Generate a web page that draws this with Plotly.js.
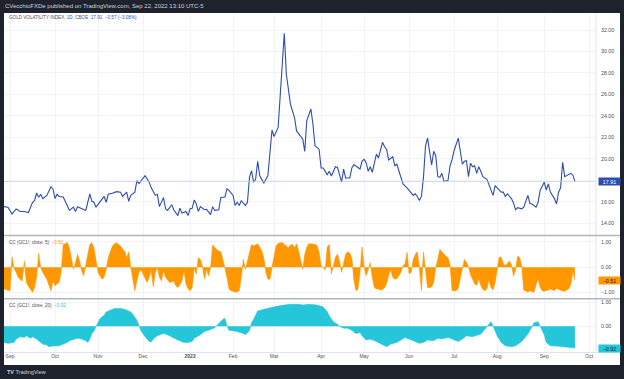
<!DOCTYPE html>
<html><head><meta charset="utf-8">
<script src="https://cdn.plot.ly/plotly-3.0.1.min.js"></script>
<style>html,body{margin:0;padding:0;background:#1e222d;overflow:hidden}#chart{width:624px;height:379px}</style>
</head><body><div id="chart"></div>
<script>
// ---- Gold Volatility Index (GVZ), daily close ----
const gvzDates = [
'2021-08-27','2021-08-31','2021-09-02','2021-09-06','2021-09-08','2021-09-10','2021-09-14','2021-09-16','2021-09-17','2021-09-20','2021-09-21','2021-09-22','2021-09-23','2021-09-27','2021-09-29','2021-09-30',
'2021-10-01','2021-10-04','2021-10-05','2021-10-07','2021-10-11','2021-10-12','2021-10-14','2021-10-15','2021-10-18','2021-10-20','2021-10-22','2021-10-25','2021-10-26','2021-10-27','2021-10-28','2021-10-29',
'2021-11-02','2021-11-04','2021-11-05','2021-11-08','2021-11-10','2021-11-12','2021-11-16','2021-11-17','2021-11-19','2021-11-22','2021-11-23','2021-11-25','2021-11-26','2021-11-29',
'2021-12-02','2021-12-06','2021-12-07','2021-12-09','2021-12-10','2021-12-13','2021-12-15','2021-12-16','2021-12-17','2021-12-21','2021-12-22','2021-12-24','2021-12-27','2021-12-28','2021-12-30','2021-12-31',
'2022-01-03','2022-01-04','2022-01-05','2022-01-06','2022-01-07','2022-01-10','2022-01-12','2022-01-13','2022-01-17','2022-01-18','2022-01-19','2022-01-21','2022-01-24','2022-01-26','2022-01-27','2022-01-28',
'2022-02-01','2022-02-02','2022-02-03','2022-02-04','2022-02-07','2022-02-09','2022-02-10','2022-02-11','2022-02-14','2022-02-15','2022-02-16','2022-02-17','2022-02-18','2022-02-22','2022-02-24','2022-02-25','2022-02-28',
'2022-03-01','2022-03-03','2022-03-08','2022-03-09','2022-03-11','2022-03-14','2022-03-15','2022-03-16','2022-03-17','2022-03-18','2022-03-21','2022-03-22','2022-03-23','2022-03-25','2022-03-28','2022-03-29','2022-03-31',
'2022-04-01','2022-04-04','2022-04-06','2022-04-07','2022-04-08','2022-04-12','2022-04-13','2022-04-15','2022-04-18','2022-04-19','2022-04-21','2022-04-22','2022-04-25','2022-04-27','2022-04-28','2022-04-29',
'2022-05-02','2022-05-03','2022-05-04','2022-05-05','2022-05-06','2022-05-10','2022-05-11','2022-05-13','2022-05-16','2022-05-17','2022-05-18','2022-05-20','2022-05-23','2022-05-24','2022-05-26','2022-05-27','2022-05-31',
'2022-06-01','2022-06-03','2022-06-06','2022-06-07','2022-06-08','2022-06-09','2022-06-10','2022-06-13','2022-06-14','2022-06-16','2022-06-17','2022-06-20','2022-06-21','2022-06-22','2022-06-23','2022-06-24','2022-06-28','2022-06-29','2022-06-30',
'2022-07-01','2022-07-05','2022-07-06','2022-07-07','2022-07-08','2022-07-11','2022-07-12','2022-07-13','2022-07-14','2022-07-15','2022-07-18','2022-07-19','2022-07-20','2022-07-21','2022-07-25','2022-07-27','2022-07-28','2022-07-29',
'2022-08-02','2022-08-03','2022-08-04','2022-08-05','2022-08-08','2022-08-10','2022-08-11','2022-08-12','2022-08-15','2022-08-17','2022-08-18','2022-08-22','2022-08-23','2022-08-24','2022-08-26','2022-08-29','2022-08-30',
'2022-09-01','2022-09-02','2022-09-05','2022-09-06','2022-09-08','2022-09-09','2022-09-12','2022-09-13','2022-09-14','2022-09-15','2022-09-16','2022-09-19','2022-09-20','2022-09-21','2022-09-22'];
const gvzValues = [
15.55,15.5,14.87,15.33,15.1,15.1,15.0,15.96,16.1,16.82,16.42,16.7,16.3,16.6,17.41,17.2,
16.3,16.7,16.5,16.45,15.64,15.2,15.5,15.1,15.55,15.35,15.2,15.96,16.73,16.05,15.96,15.5,
16.05,16.5,15.96,16.7,16.8,16.95,16.9,16.5,16.9,16.05,16.6,16.9,17.97,17.7,
18.44,17.83,17.3,16.6,16.7,15.55,16.4,15.35,15.2,15.73,15.26,14.72,15.4,14.95,15.1,14.72,
15.35,15.4,16.17,15.8,15.1,15.55,15.26,15.3,14.8,15.55,15.2,15.26,16.4,16.45,17.2,17.06,
16.6,15.65,15.96,15.65,16.1,15.65,15.96,18.28,18.9,17.83,18.1,19.77,18.44,17.74,18.44,20.45,22.69,
22.07,22.93,31.69,27.9,25.1,24.4,23.85,22.6,22.37,22.16,21.85,20.7,23.56,24.64,23.25,21.22,20.9,
19.15,19.15,18.53,18.84,18.4,19.27,19.2,17.83,19.05,18.22,18.22,19.15,19.46,19.15,19.05,19.8,
19.95,19.65,18.84,19.27,18.75,20.45,20.08,21.54,21.13,20.9,19.9,20.2,19.36,19.5,18.28,17.66,17.3,
17.06,16.6,16.75,16.5,16.13,16.5,18.28,21.22,21.93,19.43,20.7,20.3,18.34,18.28,18.65,17.9,18.0,19.36,19.95,
20.8,21.93,20.45,19.5,19.77,19.83,18.34,19.6,19.27,19.36,18.65,19.27,18.84,18.34,18.1,17.2,16.6,17.5,
17.1,16.9,16.9,16.5,16.75,16.3,15.87,15.26,15.45,15.35,15.5,16.6,15.87,15.8,15.5,15.96,17.06,
17.83,17.1,17.66,16.9,16.3,15.8,16.9,17.3,19.68,18.34,18.44,18.55,18.65,18.48,17.91];

// ---- CC (GC1!, close, 5) ----
const cc5Dates = [
'2021-08-27','2021-08-31','2021-09-01','2021-09-02','2021-09-03','2021-09-06','2021-09-07','2021-09-08','2021-09-09','2021-09-10','2021-09-13','2021-09-14','2021-09-15','2021-09-16','2021-09-17','2021-09-20','2021-09-21','2021-09-22','2021-09-23','2021-09-24','2021-09-27','2021-09-28','2021-09-29','2021-09-30',
'2021-10-01','2021-10-04','2021-10-05','2021-10-06','2021-10-07','2021-10-08','2021-10-11','2021-10-12','2021-10-13','2021-10-14','2021-10-15','2021-10-18','2021-10-19','2021-10-20','2021-10-21','2021-10-22','2021-10-25','2021-10-26','2021-10-27','2021-10-28','2021-10-29',
'2021-11-01','2021-11-02','2021-11-03','2021-11-04','2021-11-05','2021-11-08','2021-11-09','2021-11-10','2021-11-11','2021-11-12','2021-11-15','2021-11-16','2021-11-17','2021-11-18','2021-11-19','2021-11-22','2021-11-23','2021-11-24','2021-11-25','2021-11-26','2021-11-29','2021-11-30',
'2021-12-01','2021-12-02','2021-12-03','2021-12-06','2021-12-07','2021-12-08','2021-12-09','2021-12-10','2021-12-13','2021-12-14','2021-12-15','2021-12-16','2021-12-17','2021-12-20','2021-12-21','2021-12-22','2021-12-23','2021-12-24','2021-12-27','2021-12-28','2021-12-29','2021-12-30','2021-12-31',
'2022-01-03','2022-01-04','2022-01-05','2022-01-06','2022-01-07','2022-01-10','2022-01-11','2022-01-12','2022-01-13','2022-01-14','2022-01-17','2022-01-18','2022-01-19','2022-01-20','2022-01-21','2022-01-24','2022-01-25','2022-01-26','2022-01-27','2022-01-28','2022-01-31',
'2022-02-01','2022-02-02','2022-02-03','2022-02-04','2022-02-07','2022-02-08','2022-02-09','2022-02-10','2022-02-11','2022-02-14','2022-02-15','2022-02-16','2022-02-17','2022-02-18','2022-02-21','2022-02-22','2022-02-23','2022-02-24','2022-02-25','2022-02-28',
'2022-03-01','2022-03-02','2022-03-03','2022-03-04','2022-03-07','2022-03-08','2022-03-09','2022-03-10','2022-03-11','2022-03-14','2022-03-15','2022-03-16','2022-03-17','2022-03-18','2022-03-21','2022-03-22','2022-03-23','2022-03-24','2022-03-25','2022-03-28','2022-03-29','2022-03-30','2022-03-31',
'2022-04-01','2022-04-04','2022-04-05','2022-04-06','2022-04-07','2022-04-08','2022-04-11','2022-04-12','2022-04-13','2022-04-14','2022-04-15','2022-04-18','2022-04-19','2022-04-20','2022-04-21','2022-04-22','2022-04-25','2022-04-26','2022-04-27','2022-04-28','2022-04-29',
'2022-05-02','2022-05-03','2022-05-04','2022-05-05','2022-05-06','2022-05-09','2022-05-10','2022-05-11','2022-05-12','2022-05-13','2022-05-16','2022-05-17','2022-05-18','2022-05-19','2022-05-20','2022-05-23','2022-05-24','2022-05-25','2022-05-26','2022-05-27','2022-05-30','2022-05-31',
'2022-06-01','2022-06-02','2022-06-03','2022-06-06','2022-06-07','2022-06-08','2022-06-09','2022-06-10','2022-06-13','2022-06-14','2022-06-15','2022-06-16','2022-06-17','2022-06-20','2022-06-21','2022-06-22','2022-06-23','2022-06-24','2022-06-27','2022-06-28','2022-06-29','2022-06-30',
'2022-07-01','2022-07-04','2022-07-05','2022-07-06','2022-07-07','2022-07-08','2022-07-11','2022-07-12','2022-07-13','2022-07-14','2022-07-15','2022-07-18','2022-07-19','2022-07-20','2022-07-21','2022-07-22','2022-07-25','2022-07-26','2022-07-27','2022-07-28','2022-07-29',
'2022-08-01','2022-08-02','2022-08-03','2022-08-04','2022-08-05','2022-08-08','2022-08-09','2022-08-10','2022-08-11','2022-08-12','2022-08-15','2022-08-16','2022-08-17','2022-08-18','2022-08-19','2022-08-22','2022-08-23','2022-08-24','2022-08-25','2022-08-26','2022-08-29','2022-08-30','2022-08-31',
'2022-09-01','2022-09-02','2022-09-05','2022-09-06','2022-09-07','2022-09-08','2022-09-09','2022-09-12','2022-09-13','2022-09-14','2022-09-15','2022-09-16','2022-09-19','2022-09-20','2022-09-21','2022-09-22'];
const cc5Values = [
-0.86,-0.9,-0.93,0.41,-0.05,-0.2,-0.4,-0.48,-0.54,0.25,-0.6,-0.75,-0.86,-0.99,-0.8,-0.4,0.54,-0.02,-0.2,-0.35,-0.47,-0.7,-0.93,-0.54,
-0.73,-0.65,-0.6,-0.2,0.9,0.93,0.98,0.77,0.25,-0.08,0.18,0.51,0.25,-0.14,-0.34,0.02,0.51,0.9,0.97,0.77,0.25,
-0.2,-0.35,-0.47,-0.4,-0.08,0.38,0.64,0.84,0.92,0.97,0.9,0.84,0.71,0.64,0.38,0.61,0,-0.4,-0.93,-0.54,-0.2,-0.1,
-0.25,-0.4,-0.6,-0.4,-0.14,-0.77,-0.2,0,-0.4,-0.54,-0.14,-0.4,-0.5,-0.6,-0.58,-0.54,-0.73,-0.8,-0.7,-0.54,-0.14,-0.67,-0.85,
-0.93,-0.8,0,-0.27,0.38,0.31,0.05,-0.47,-0.08,-0.34,0,0.88,0.77,0.7,0.64,0.61,0.31,0,-0.4,-0.86,-0.93,
-0.95,-0.99,-0.97,-0.93,-0.4,0.31,-0.08,0.25,0.51,0.9,0.84,0.88,0.93,0.8,0.64,0.38,-0.2,-0.47,-0.47,0,
0.51,0.85,0.95,0.98,0.98,0.9,0.85,0.77,0.88,0.9,0.77,0.93,0.64,0.2,-0.08,0.5,0.8,0.93,0.93,0.92,0.9,0.86,0.6,
0.05,0,-0.12,0.8,0.9,-0.27,0.1,0.4,0.51,0.25,-0.2,0.1,0.51,0.61,0.55,0.38,-0.5,-0.93,-0.86,-0.2,0.8,
0,-0.34,-0.1,0.18,-0.4,-0.8,-0.86,-0.86,-0.9,-0.88,-0.8,-0.65,-0.3,-0.1,-0.4,-0.47,-0.45,-0.34,-0.2,0.05,0.14,0.58,
-0.27,-0.2,0.31,0.5,0.61,0,-0.93,0.61,0,-0.8,-0.8,-0.78,-0.6,0,0.31,0.71,0.6,0.5,0.44,0.38,0.1,-0.93,
-0.93,-0.93,-0.82,-0.4,-0.05,0.31,0.2,0.02,-0.3,-0.5,-0.65,-0.72,-0.45,-0.72,-0.88,-0.93,-0.85,-0.5,-0.8,-0.9,-0.6,
-0.1,0.4,0.4,0.15,0.06,0.18,0.25,0.1,-0.35,-0.1,0.44,0.38,0.05,-0.9,-0.95,-0.98,-0.93,-0.95,-0.99,-0.7,-0.45,-0.8,-0.93,
-0.95,-0.93,-0.9,-0.86,-0.9,-0.93,-0.84,-0.88,-0.93,-0.94,-0.95,-0.9,-0.85,-0.67,-0.15,-0.51];

// ---- CC (GC1!, close, 20) ----
const cc20Dates = [
'2021-08-27','2021-08-31','2021-09-03','2021-09-06','2021-09-08','2021-09-10','2021-09-13','2021-09-15','2021-09-16','2021-09-20','2021-09-22','2021-09-23','2021-09-27','2021-09-28','2021-09-30',
'2021-10-05','2021-10-07','2021-10-11','2021-10-12','2021-10-14','2021-10-18','2021-10-20','2021-10-22','2021-10-25','2021-10-26','2021-10-27','2021-10-28','2021-10-29',
'2021-11-01','2021-11-02','2021-11-04','2021-11-05','2021-11-09','2021-11-11','2021-11-16','2021-11-18','2021-11-23','2021-11-24','2021-11-26','2021-11-29','2021-11-30',
'2021-12-02','2021-12-06','2021-12-07','2021-12-08','2021-12-10','2021-12-15','2021-12-17','2021-12-22','2021-12-24','2021-12-29','2021-12-31',
'2022-01-04','2022-01-05','2022-01-10','2022-01-12','2022-01-14','2022-01-17','2022-01-19','2022-01-21','2022-01-25','2022-01-26','2022-01-27','2022-01-28',
'2022-02-01','2022-02-03','2022-02-08','2022-02-09','2022-02-11','2022-02-14','2022-02-15','2022-02-17','2022-02-22','2022-02-24','2022-02-28',
'2022-03-03','2022-03-08','2022-03-11','2022-03-17','2022-03-21','2022-03-24','2022-03-30',
'2022-04-04','2022-04-06','2022-04-07','2022-04-11','2022-04-13','2022-04-14','2022-04-18','2022-04-20','2022-04-22','2022-04-26','2022-04-28','2022-04-29',
'2022-05-03','2022-05-05','2022-05-10','2022-05-12','2022-05-17','2022-05-19','2022-05-24','2022-05-26','2022-05-30',
'2022-06-01','2022-06-03','2022-06-08','2022-06-10','2022-06-14','2022-06-17','2022-06-21','2022-06-23','2022-06-28','2022-06-29',
'2022-07-05','2022-07-07','2022-07-11','2022-07-14','2022-07-18','2022-07-20','2022-07-22','2022-07-26','2022-07-27','2022-07-28',
'2022-08-01','2022-08-03','2022-08-05','2022-08-10','2022-08-12','2022-08-17','2022-08-22','2022-08-24','2022-08-25','2022-08-29','2022-08-30',
'2022-09-01','2022-09-02','2022-09-06','2022-09-09','2022-09-15','2022-09-20','2022-09-22'];
const cc20Values = [
-0.68,-0.72,-0.68,-0.54,-0.44,-0.47,-0.4,-0.5,-0.44,-0.54,-0.68,-0.75,-0.79,-0.86,-0.83,
-0.82,-0.75,-0.68,-0.61,-0.54,-0.5,-0.54,-0.61,-0.68,-0.54,-0.31,-0.2,-0.02,
0.15,0.33,0.46,0.6,0.67,0.75,0.75,0.71,0.6,0.5,0.25,0.01,-0.19,
-0.44,-0.64,-0.66,-0.54,-0.4,-0.31,-0.36,-0.5,-0.58,-0.68,-0.68,
-0.64,-0.5,-0.36,-0.22,-0.17,-0.13,-0.06,0.11,0.29,0.33,0.01,-0.17,
-0.19,-0.22,-0.31,-0.36,-0.19,0.15,0.29,0.64,0.71,0.75,0.81,
0.85,0.89,0.92,0.92,0.89,0.92,0.89,
0.81,0.61,0.43,0.19,0.08,-0.01,-0.08,-0.08,-0.17,-0.31,-0.26,-0.4,
-0.58,-0.54,-0.64,-0.72,-0.86,-0.75,-0.68,-0.58,-0.47,
-0.54,-0.62,-0.72,-0.68,-0.58,-0.61,-0.5,-0.54,-0.47,-0.5,
-0.64,-0.54,-0.4,-0.44,-0.4,-0.33,-0.13,0.08,0.19,0.01,
-0.4,-0.68,-0.82,-0.86,-0.82,-0.64,-0.33,-0.03,0.15,0.19,0.01,
-0.36,-0.68,-0.82,-0.83,-0.86,-0.89,-0.92];

// ---- axis ticks / labels ----
const monthTickDates = ['2021-09-01','2021-10-01','2021-11-01','2021-12-01','2022-01-03','2022-02-01','2022-03-01','2022-04-01','2022-05-02','2022-06-01','2022-07-01','2022-08-01','2022-09-01','2022-10-03'];
const monthTickLabels = ['Sep','Oct','Nov','Dec','<b>2022</b>','Feb','Mar','Apr','May','Jun','Jul','Aug','Sep','Oct'];
const priceTicks = [14,16,20,22,24,26,28,30,32];   // 18.00 is covered by the last-price tag
const ccTicks = [-1,0,1];
const cc20Ticks = [0,1];
const lastGvz = 17.91, lastCc5 = -0.51, lastCc20 = -0.92;

// ---- layout geometry (pixels) ----
const W = 624, H = 379, ML = 4, MR = 28, MT = 14, MB = 27;
const PW = W - ML - MR, PH = H - MT - MB;
const px = x => (x - ML) / PW;
const py = y => (H - MB - y) / PH;

const BLUE = '#2f4db0', ORANGE = '#ff9800', CYAN = '#26c6da';
const GRID = '#f0f3fa', TXT = '#4c4f59';
const FONT = 'Liberation Sans, Arial, sans-serif';

const traces = [
  {x: gvzDates, y: gvzValues, type: 'scatter', mode: 'lines', line: {color: BLUE, width: 1.1}, xaxis: 'x', yaxis: 'y'},
  {x: cc5Dates, y: cc5Values, type: 'scatter', mode: 'lines', fill: 'tozeroy', fillcolor: ORANGE, line: {color: ORANGE, width: 0.6}, xaxis: 'x', yaxis: 'y2'},
  {x: cc20Dates, y: cc20Values, type: 'scatter', mode: 'lines', fill: 'tozeroy', fillcolor: CYAN, line: {color: CYAN, width: 0.6}, xaxis: 'x', yaxis: 'y3'}
];

const yCommon = {side: 'right', showgrid: true, gridcolor: GRID, gridwidth: 1, zeroline: false, ticks: '', showline: false,
  tickfont: {family: FONT, size: 5.3, color: TXT}, tickformat: '.2f', ticklabelstandoff: 4, fixedrange: true};

const layout = {
  width: W, height: H,
  margin: {l: ML, r: MR, t: MT, b: MB, pad: 0},
  paper_bgcolor: '#1e222d', plot_bgcolor: '#ffffff',
  showlegend: false, hovermode: false,
  font: {family: FONT},
  xaxis: {type: 'date', anchor: 'y3', range: ['2021-08-27 01:40', '2022-10-06 07:00'],
    rangebreaks: [{bounds: ['sat', 'mon']}],
    tickmode: 'array', tickvals: monthTickDates, ticktext: monthTickLabels,
    showgrid: true, gridcolor: GRID, gridwidth: 1, zeroline: false, ticks: '', showline: false,
    tickfont: {family: FONT, size: 5, color: TXT}, ticklabelstandoff: 1.5},
  yaxis: Object.assign({}, yCommon, {domain: [py(235), 1], range: [12.91, 33.49], tickmode: 'array', tickvals: priceTicks}),
  yaxis2: Object.assign({}, yCommon, {domain: [py(298), py(236.5)], range: [-1.216, 1.216], tickmode: 'array', tickvals: ccTicks}),
  yaxis3: Object.assign({}, yCommon, {domain: [0, py(299.5)], range: [-1.083, 1.125], tickmode: 'array', tickvals: cc20Ticks}),
  shapes: [
    {type: 'rect', xref: 'paper', yref: 'paper', x0: px(4), x1: px(620), y0: py(365), y1: py(13), fillcolor: '#ffffff', line: {width: 0}, layer: 'below'},
    {type: 'line', xref: 'paper', yref: 'y', x0: 0, x1: 1, y0: lastGvz, y1: lastGvz, line: {color: '#bcc7e6', width: 0.8}},
    {type: 'line', xref: 'paper', yref: 'paper', x0: 1, x1: 1, y0: py(352), y1: py(13), line: {color: '#e0e3eb', width: 1}},
    {type: 'line', xref: 'paper', yref: 'paper', x0: px(4), x1: px(620), y0: py(352.5), y1: py(352.5), line: {color: '#e0e3eb', width: 1}},
    {type: 'line', xref: 'paper', yref: 'paper', x0: px(4), x1: px(620), y0: py(235.5), y1: py(235.5), line: {color: '#b2b5be', width: 1.5}},
    {type: 'line', xref: 'paper', yref: 'paper', x0: px(4), x1: px(620), y0: py(298.8), y1: py(298.8), line: {color: '#b2b5be', width: 1.5}}
  ],
  annotations: [
    {xref: 'paper', yref: 'paper', x: px(3), y: py(6.5), xanchor: 'left', yanchor: 'middle', showarrow: false,
      text: 'CVecchioFXDe published on TradingView.com, Sep 22, 2022 13:10 UTC-5', font: {family: FONT, size: 6, color: '#d1d4dc'}},
    {xref: 'paper', yref: 'paper', x: px(7), y: py(17), xanchor: 'left', yanchor: 'middle', showarrow: false,
      text: 'GOLD VOLATILITY INDEX, 1D, CBOE&nbsp;&nbsp;<span style="color:' + BLUE + '">17.91&nbsp;&nbsp;−0.57 (−3.08%)</span>', font: {family: FONT, size: 4.6, color: TXT}},
    {xref: 'paper', yref: 'paper', x: px(7), y: py(242.5), xanchor: 'left', yanchor: 'middle', showarrow: false,
      text: 'CC (GC1!, close, 5)&nbsp;&nbsp;<span style="color:' + ORANGE + '">−0.51</span>', font: {family: FONT, size: 4.6, color: TXT}},
    {xref: 'paper', yref: 'paper', x: px(7), y: py(305), xanchor: 'left', yanchor: 'middle', showarrow: false,
      text: 'CC (GC1!, close, 20)&nbsp;&nbsp;<span style="color:' + CYAN + '">−0.92</span>', font: {family: FONT, size: 4.6, color: TXT}},
    {xref: 'paper', yref: 'y', x: px(597.5), y: lastGvz, xanchor: 'left', yanchor: 'middle', showarrow: false,
      text: '17.91', bgcolor: BLUE, width: 20, height: 6, borderpad: 0.5, font: {family: FONT, size: 5.3, color: '#ffffff'}},
    {xref: 'paper', yref: 'y2', x: px(597.5), y: lastCc5, xanchor: 'left', yanchor: 'middle', showarrow: false,
      text: '−0.51', bgcolor: ORANGE, width: 20, height: 6, borderpad: 0.5, font: {family: FONT, size: 5.3, color: '#131722'}},
    {xref: 'paper', yref: 'y3', x: px(597.5), y: lastCc20, xanchor: 'left', yanchor: 'middle', showarrow: false,
      text: '−0.92', bgcolor: CYAN, width: 20, height: 6, borderpad: 0.5, font: {family: FONT, size: 5.3, color: '#131722'}},
    {xref: 'paper', yref: 'paper', x: px(5), y: py(372), xanchor: 'left', yanchor: 'middle', showarrow: false,
      text: '<b>TV</b> TradingView', font: {family: FONT, size: 5.5, color: '#d1d4dc'}}
  ]
};

Plotly.newPlot('chart', traces, layout, {staticPlot: true, displayModeBar: false});
</script>
</body></html>
